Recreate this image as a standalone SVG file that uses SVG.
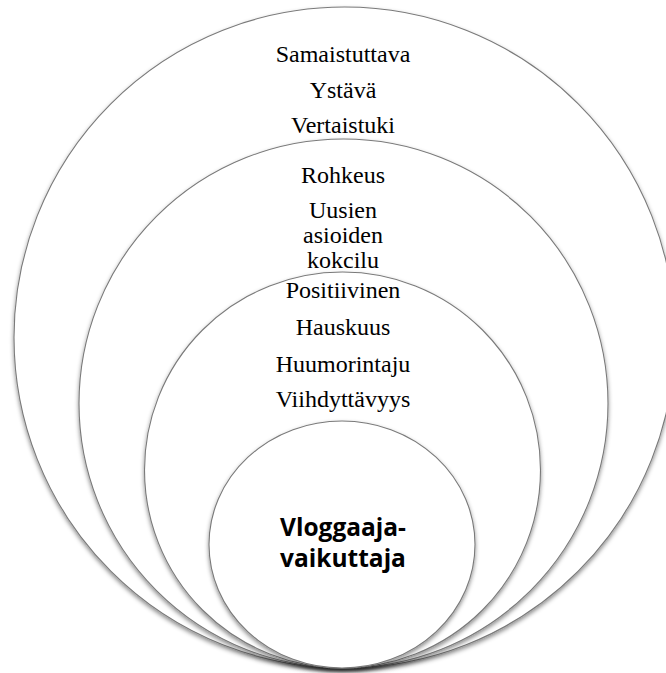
<svg xmlns="http://www.w3.org/2000/svg" width="666" height="673" viewBox="0 0 666 673">
  <defs>
    <filter id="sh" x="-10%" y="-10%" width="120%" height="125%">
      <feDropShadow dx="0" dy="2.5" stdDeviation="2" flood-color="#000" flood-opacity="0.45"/>
    </filter>
  </defs>
  <style>
    .ring { fill: #ffffff; stroke: #7a7a7a; stroke-width: 1.1; filter: url(#sh); }
    .lbl { font-family: "Liberation Serif", "Times New Roman", serif; font-size: 24px; fill: #000; text-anchor: middle; }
    .core { font-family: "Open Sans", "Noto Sans", sans-serif; font-weight: bold; font-size: 24.5px; fill: #000; text-anchor: middle; }
  </style>
  <rect width="666" height="673" fill="#ffffff"/>
  <g id="ring1">
    <circle class="ring" cx="344.5" cy="337.5" r="330.5"/>
    <text class="lbl" x="343" y="62">Samaistuttava</text>
    <text class="lbl" x="343" y="98">Ystävä</text>
    <text class="lbl" x="343" y="133">Vertaistuki</text>
  </g>
  <g id="ring2">
    <circle class="ring" cx="343.5" cy="403.5" r="264.5"/>
    <text class="lbl" x="343" y="183">Rohkeus</text>
    <text class="lbl" x="343" y="218">Uusien</text>
    <text class="lbl" x="343" y="243">asioiden</text>
    <text class="lbl" x="343" y="268">kokcilu</text>
  </g>
  <g id="ring3">
    <circle class="ring" cx="342.5" cy="470" r="198"/>
    <text class="lbl" x="343" y="298">Positiivinen</text>
    <text class="lbl" x="343" y="335">Hauskuus</text>
    <text class="lbl" x="343" y="372">Huumorintaju</text>
    <text class="lbl" x="343" y="407">Viihdyttävyys</text>
  </g>
  <g id="core">
    <ellipse class="ring" cx="342" cy="544.5" rx="133" ry="123.5"/>
    <text class="core" x="343" y="536">Vloggaaja-</text>
    <text class="core" x="343" y="567">vaikuttaja</text>
  </g>
</svg>
